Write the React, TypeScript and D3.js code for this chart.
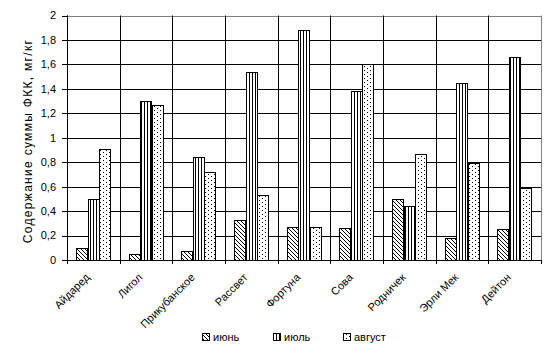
import React from "react";
import * as d3 from "d3";

const categories = ["Айдаред", "Лигол", "Прикубанское", "Рассвет", "Фортуна", "Сова", "Родничек", "Эрли Мек", "Дейтон"];
const seriesNames = ["июнь", "июль", "август"];
const june = [0.1, 0.05, 0.07, 0.33, 0.27, 0.26, 0.5, 0.18, 0.25];
const july = [0.5, 1.3, 0.84, 1.54, 1.88, 1.38, 0.44, 1.45, 1.66];
const august = [0.91, 1.27, 0.72, 0.53, 0.27, 1.6, 0.87, 0.79, 0.59];
const yTicks = [0, 0.2, 0.4, 0.6, 0.8, 1, 1.2, 1.4, 1.6, 1.8, 2];
const yTitle = "Содержание суммы ФКК, мг/кг";

const W = 556, H = 354;
const left = 67, right = 541, top = 15.5, bottom = 260;
const patterns = ["pJune", "pJuly", "pAug"];

export default function App() {
  const allValues = [june, july, august];
  const x0 = d3.scaleBand<string>().domain(categories).range([left, right]).paddingInner(0).paddingOuter(0);
  const x1 = d3.scaleBand<string>().domain(seriesNames).range([0, x0.bandwidth()]).paddingInner(0).paddingOuter(0.8);
  const y = d3.scaleLinear().domain([0, 2]).range([bottom, top]);
  const font = "'Liberation Sans', Arial, sans-serif";
  const fmt = (v: number) => String(Math.round(v * 10) / 10).replace(".", ",");
  const legendX = [202, 273, 343];

  return (
    <svg width={W} height={H} style={{ position: "absolute", left: 0, top: 0, background: "#fff" }} fontFamily={font}>
      <defs>
        <pattern id="pJune" patternUnits="userSpaceOnUse" width={4} height={4}>
          <rect width={4} height={4} fill="#fff" />
          <path d="M0,0 L4,4 M-1,3 L1,5 M3,-1 L5,1" stroke="#000" strokeWidth={1} />
        </pattern>
        <pattern id="pJuly" patternUnits="userSpaceOnUse" width={3} height={4}>
          <rect width={3} height={4} fill="#fff" />
          <line x1={0.5} y1={0} x2={0.5} y2={4} stroke="#000" strokeWidth={1} />
        </pattern>
        <pattern id="pAug" patternUnits="userSpaceOnUse" width={6} height={4}>
          <rect width={6} height={4} fill="#fff" />
          <rect x={1} y={0} width={1} height={1} fill="#000" />
          <rect x={4} y={2} width={1} height={1} fill="#000" />
        </pattern>
      </defs>
      <rect width={W} height={H} fill="#fff" />
      {yTicks.map((t) => (
        <line key={"g" + t} x1={left} x2={right} y1={Math.round(y(t)) + 0.5} y2={Math.round(y(t)) + 0.5}
          stroke={t === 2 ? "#808080" : "#000"} strokeWidth={1} />
      ))}
      {categories.map((c) => (
        <line key={"v" + c} x1={Math.round(x0(c)!) + 0.5} x2={Math.round(x0(c)!) + 0.5}
          y1={top} y2={bottom + 4} stroke="#000" strokeWidth={1} />
      ))}
      <line x1={Math.round(right) + 0.5} x2={Math.round(right) + 0.5} y1={top} y2={bottom} stroke="#808080" />
      <line x1={Math.round(right) + 0.5} x2={Math.round(right) + 0.5} y1={bottom} y2={bottom + 4} stroke="#000" />
      {yTicks.map((t) => (
        <g key={"t" + t}>
          <line x1={left - 5} x2={left} y1={Math.round(y(t)) + 0.5} y2={Math.round(y(t)) + 0.5} stroke="#000" />
          <text x={56} y={y(t)} dy="0.35em" textAnchor="end" fontSize={11} fill="#000">{fmt(t)}</text>
        </g>
      ))}
      {categories.map((c, i) => (
        <g key={"b" + c}>
          {seriesNames.map((s, j) => {
            const v = allValues[j][i];
            const bx = Math.round(x0(c)! + x1(s)!) + 0.5;
            const by = Math.round(y(v)) + 0.5;
            const bw = Math.round(x1.bandwidth());
            return (
              <rect key={s} x={bx} y={by} width={bw} height={Math.round(bottom) + 0.5 - by}
                fill={`url(#${patterns[j]})`} stroke="#000" strokeWidth={1} />
            );
          })}
        </g>
      ))}
      <line x1={Math.round(left) + 0.5} x2={Math.round(left) + 0.5} y1={top} y2={bottom + 4} stroke="#000" />
      <line x1={left} x2={right} y1={Math.round(bottom) + 0.5} y2={Math.round(bottom) + 0.5} stroke="#000" />
      {categories.map((c) => {
        const cx = x0(c)! + x0.bandwidth() / 2 - 3;
        const cy = 278;
        return (
          <text key={"l" + c} x={cx} y={cy} textAnchor="end" fontSize={11} fill="#000"
            transform={`rotate(-45, ${cx}, ${cy})`}>{c}</text>
        );
      })}
      <text x={0} y={0} transform={`translate(32, 141) rotate(-90)`} textAnchor="middle"
        fontSize={12} letterSpacing={1.3} fill="#000">{yTitle}</text>
      {seriesNames.map((s, j) => (
        <g key={"lg" + s}>
          <rect x={legendX[j] + 0.5} y={333.5} width={7} height={7} fill={`url(#${patterns[j]})`} stroke="#000" />
          <text x={legendX[j] + 11} y={337} dy="0.35em" fontSize={11} fill="#000">{s}</text>
        </g>
      ))}
    </svg>
  );
}
